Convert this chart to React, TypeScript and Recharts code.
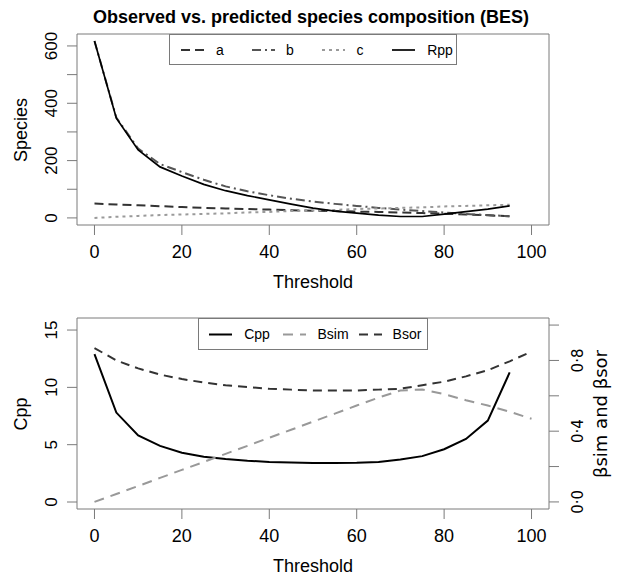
import React from "react";
import { LineChart, Line, XAxis, YAxis, ReferenceArea, Legend } from "recharts";

// top panel: species counts by threshold
const thresholds = [0, 5, 10, 15, 20, 25, 30, 35, 40, 45, 50, 55, 60, 65, 70, 75, 80, 85, 90, 95];
const aSpecies = [50, 47, 44, 41, 38, 35, 33, 31, 29, 27, 25, 24, 22, 21, 19, 17, 15, 12, 9, 6];
const bSpecies = [617, 350, 242, 188, 160, 133, 110, 93, 79, 67, 57, 49, 42, 35, 29, 24, 19, 14, 10, 6];
const cSpecies = [0, 4, 7, 10, 12, 14, 16, 19, 21, 24, 26, 28, 31, 33, 35, 37, 40, 42, 44, 46];
const rppSpecies = [617, 348, 237, 178, 146, 117, 95, 78, 63, 48, 34, 24, 17, 10, 5, 5, 13, 22, 31, 42];

// bottom panel: Cpp and beta diversity
const thresholdsB = [0, 5, 10, 15, 20, 25, 30, 35, 40, 45, 50, 55, 60, 65, 70, 75, 80, 85, 90, 95, 100];
const cppValues = [12.9, 7.8, 5.8, 4.9, 4.3, 3.95, 3.75, 3.6, 3.5, 3.45, 3.4, 3.4, 3.42, 3.5, 3.7, 4.0, 4.6, 5.5, 7.1, 11.3, null];
const bsimValues = [0, 0.045, 0.09, 0.136, 0.181, 0.226, 0.272, 0.317, 0.363, 0.408, 0.454, 0.499, 0.545, 0.59, 0.63, 0.636, 0.61, 0.575, 0.545, 0.51, 0.47];
const bsorValues = [0.87, 0.8, 0.755, 0.72, 0.695, 0.675, 0.66, 0.65, 0.64, 0.635, 0.63, 0.63, 0.63, 0.635, 0.64, 0.66, 0.68, 0.71, 0.745, 0.795, 0.85];

const xTicks = [0, 20, 40, 60, 80, 100];
const speciesTicks = [0, 100, 200, 300, 400, 500, 600];
const cppTicks = [0, 5, 10, 15];
const betaTicks = [0, 0.2, 0.4, 0.6, 0.8, 1];

const topData = thresholds.map((t, i) => ({
  t,
  a: aSpecies[i],
  b: bSpecies[i],
  c: cSpecies[i],
  Rpp: rppSpecies[i],
}));

const bottomData = thresholdsB.map((t, i) => ({
  t,
  Cpp: cppValues[i],
  Bsim: bsimValues[i],
  Bsor: bsorValues[i],
}));

const FONT = '"Liberation Sans", Arial, Helvetica, sans-serif';
const DEJAVU = '"DejaVu Sans", sans-serif';
const GRAY = "#7a7a7a";
const X_DOMAIN: [number, number] = [-4, 104];
const SPECIES_DOMAIN: [number, number] = [-24.7, 641.7];
const CPP_DOMAIN: [number, number] = [-0.61, 16.05];
const BETA_DOMAIN: [number, number] = [-0.04, 1.04];

const topSeries = [
  { key: "a", color: "#333", width: 2, dash: "9 5", lx: 12, tx: 51 },
  { key: "b", color: "#555", width: 2, dash: "9 4 2 4", lx: 83, tx: 121 },
  { key: "c", color: "#9a9a9a", width: 2, dash: "3 4", lx: 153, tx: 191 },
  { key: "Rpp", color: "#000", width: 1.7, dash: undefined, lx: 223, tx: 271 },
];

const bottomSeries = [
  { key: "Cpp", axis: "left", color: "#000", width: 2, dash: undefined, lx: 11, tx: 59 },
  { key: "Bsim", axis: "right", color: "#999", width: 2, dash: "10 7", lx: 85, tx: 135 },
  { key: "Bsor", axis: "right", color: "#333", width: 2, dash: "9 6", lx: 161, tx: 209 },
];

function LegendBox({ items, width, height }: { items: any[]; width: number; height: number }) {
  const cy = height / 2 + 0.5;
  return (
    <svg width={width} height={height} style={{ display: "block" }}>
      <rect x={0.5} y={0.5} width={width - 1} height={height - 1} fill="#fff" stroke={GRAY} />
      {items.map((s) => (
        <g key={s.key}>
          <line x1={s.lx} x2={s.lx + 23} y1={cy} y2={cy} stroke={s.color} strokeWidth={s.width} strokeDasharray={s.dash} />
          <text x={s.tx} y={cy} dy="0.35em" textAnchor="middle" fontSize={14} fontFamily={FONT} fill="#000">
            {s.key}
          </text>
        </g>
      ))}
    </svg>
  );
}

function LeftTick({ x, y, payload, every }: any) {
  if (payload.value % every !== 0) return null;
  const bx = x - 10;
  return (
    <text x={bx} y={y} transform={`rotate(-90, ${bx}, ${y})`} textAnchor="middle" fontSize={17} fontFamily={FONT} fill="#000">
      {payload.value}
    </text>
  );
}

function RightTick({ x, y, payload }: any) {
  const v = Math.round(payload.value * 10);
  if (v % 4 !== 0) return null;
  const bx = x + 24;
  return (
    <text x={bx} y={y} transform={`rotate(-90, ${bx}, ${y})`} textAnchor="middle" fontSize={15} fontFamily={DEJAVU} fill="#000">
      {payload.value.toFixed(1).replace(".", "·")}
    </text>
  );
}

function Title({ x, y, text, rotate, font, size, bold }: any) {
  return (
    <text
      x={x}
      y={y}
      transform={rotate ? `rotate(-90, ${x}, ${y})` : undefined}
      textAnchor="middle"
      fontSize={size || 18}
      fontWeight={bold ? "bold" : "normal"}
      fontFamily={font || FONT}
      fill="#000"
    >
      {text}
    </text>
  );
}

export default function App() {
  return (
    <div style={{ position: "absolute", left: 0, top: 0, width: 618, height: 579, background: "#fff", fontFamily: FONT }}>
      <div style={{ position: "absolute", left: 0, top: 0 }}>
        <LineChart width={618} height={290} data={topData} margin={{ top: 34, right: 69, bottom: 0, left: 0 }}>
          <XAxis
            dataKey="t"
            type="number"
            domain={X_DOMAIN}
            ticks={xTicks}
            allowDataOverflow
            height={65}
            axisLine={false}
            tickLine={{ stroke: GRAY }}
            tickSize={10}
            tickMargin={10}
            tick={{ fontSize: 18, fill: "#000", fontFamily: FONT }}
          />
          <YAxis
            type="number"
            domain={SPECIES_DOMAIN}
            ticks={speciesTicks}
            allowDataOverflow
            width={77}
            axisLine={false}
            tickLine={{ stroke: GRAY }}
            tickSize={10}
            tickMargin={0}
            tick={<LeftTick every={200} />}
          />
          <ReferenceArea x1={X_DOMAIN[0]} x2={X_DOMAIN[1]} y1={SPECIES_DOMAIN[0]} y2={SPECIES_DOMAIN[1]} fill="none" stroke={GRAY} ifOverflow="visible" />
          {topSeries.map((s) => (
            <Line
              key={s.key}
              dataKey={s.key}
              type="linear"
              stroke={s.color}
              strokeWidth={s.width}
              strokeDasharray={s.dash}
              dot={false}
              activeDot={false}
              isAnimationActive={false}
            />
          ))}
          <Legend
            layout="horizontal"
            verticalAlign="middle"
            align="center"
            wrapperStyle={{ left: 169, top: 34, width: 288, height: 31 }}
            content={() => <LegendBox items={topSeries} width={288} height={31} />}
          />
        </LineChart>
      </div>
      <div style={{ position: "absolute", left: 0, top: 290 }}>
        <LineChart width={618} height={289} data={bottomData} margin={{ top: 28, right: 0, bottom: 0, left: 0 }}>
          <XAxis
            dataKey="t"
            type="number"
            domain={X_DOMAIN}
            ticks={xTicks}
            allowDataOverflow
            height={70}
            axisLine={false}
            tickLine={{ stroke: GRAY }}
            tickSize={10}
            tickMargin={10}
            tick={{ fontSize: 18, fill: "#000", fontFamily: FONT }}
          />
          <YAxis
            yAxisId="left"
            type="number"
            domain={CPP_DOMAIN}
            ticks={cppTicks}
            allowDataOverflow
            width={77}
            axisLine={false}
            tickLine={{ stroke: GRAY }}
            tickSize={10}
            tickMargin={0}
            tick={<LeftTick every={5} />}
          />
          <YAxis
            yAxisId="right"
            orientation="right"
            type="number"
            domain={BETA_DOMAIN}
            ticks={betaTicks}
            allowDataOverflow
            width={69}
            axisLine={false}
            tickLine={{ stroke: GRAY }}
            tickSize={10}
            tickMargin={0}
            tick={<RightTick />}
          />
          <ReferenceArea yAxisId="left" x1={X_DOMAIN[0]} x2={X_DOMAIN[1]} y1={CPP_DOMAIN[0]} y2={CPP_DOMAIN[1]} fill="none" stroke={GRAY} ifOverflow="visible" />
          {bottomSeries.map((s) => (
            <Line
              key={s.key}
              yAxisId={s.axis}
              dataKey={s.key}
              type="linear"
              stroke={s.color}
              strokeWidth={s.width}
              strokeDasharray={s.dash}
              dot={false}
              activeDot={false}
              isAnimationActive={false}
            />
          ))}
          <Legend
            layout="horizontal"
            verticalAlign="middle"
            align="center"
            wrapperStyle={{ left: 198, top: 28, width: 230, height: 32 }}
            content={() => <LegendBox items={bottomSeries} width={230} height={32} />}
          />
        </LineChart>
      </div>
      <svg width={618} height={579} style={{ position: "absolute", left: 0, top: 0, pointerEvents: "none" }}>
        <Title x={311} y={23} text="Observed vs. predicted species composition (BES)" size={18} bold />
        <Title x={313} y={288} text="Threshold" />
        <Title x={27} y={130} text="Species" rotate />
        <Title x={313} y={572} text="Threshold" />
        <Title x={27} y={414} text="Cpp" rotate />
        <Title x={607} y={414} text="βsim and βsor" rotate font={DEJAVU} size={18} />
      </svg>
    </div>
  );
}
